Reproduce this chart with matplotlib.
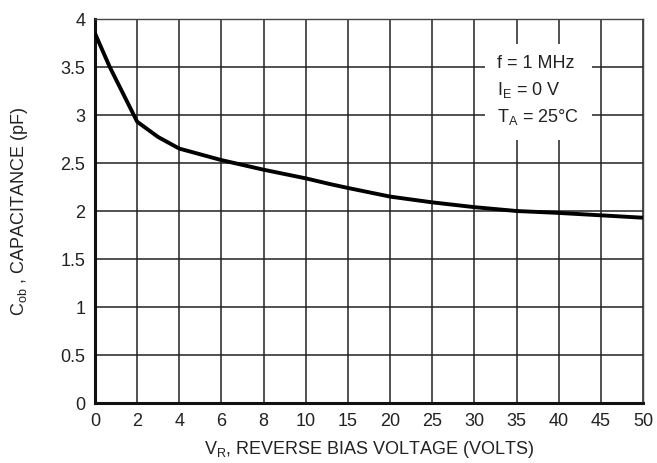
import numpy as np
import matplotlib
matplotlib.use("Agg")
import matplotlib.pyplot as plt
from matplotlib import font_manager

# --- data ---
x_ticks = [0, 2, 4, 6, 8, 10, 15, 20, 25, 30, 35, 40, 45, 50]
y_ticks = [0, 0.5, 1, 1.5, 2, 2.5, 3, 3.5, 4]
vr = [0, 0.7, 2, 3, 4, 6, 8, 10, 12.9, 15, 20, 25, 30, 35, 40, 45, 50]
cob = [3.85, 3.50, 2.93, 2.77, 2.65, 2.53, 2.43, 2.34, 2.28, 2.24, 2.15, 2.09, 2.04, 2.00, 1.98, 1.955, 1.93]
notes = ["f = 1 MHz", r"I$_\mathregular{E}$ = 0 V", r"T$_\mathregular{A}$ = 25°C"]

names = {f.name for f in font_manager.fontManager.ttflist}
fam = "Liberation Sans Narrow" if "Liberation Sans Narrow" in names else "Liberation Sans"
plt.rcParams["font.family"] = [fam, "DejaVu Sans"]
plt.rcParams["mathtext.fontset"] = "custom"
plt.rcParams["mathtext.rm"] = fam
plt.rcParams["mathtext.it"] = fam

pos = np.arange(len(x_ticks))
def fwd(v):
    return np.interp(v, x_ticks, pos)
def inv(p):
    return np.interp(p, pos, x_ticks)

fig = plt.figure(figsize=(6.57, 4.63), dpi=100)
ax = fig.add_axes([95/657, 60/463, 548/657, 384/463])
ax.set_xscale("function", functions=(fwd, inv))
ax.set_xlim(0, 50)
ax.set_ylim(0, 4)
ax.set_xticks(x_ticks)
ax.set_xticklabels([str(t) for t in x_ticks])
ax.set_yticks(y_ticks)
ax.set_yticklabels(["0", "0.5", "1", "1.5", "2", "2.5", "3", "3.5", "4"])
ax.grid(True, color="#222222", linewidth=1.1)
ax.tick_params(length=0, labelsize=13, colors="#222222", pad=7)
for s in ["top", "right"]:
    ax.spines[s].set_linewidth(1.0)
    ax.spines[s].set_color("#444444")
for s in ["left", "bottom"]:
    ax.spines[s].set_linewidth(2.2)
    ax.spines[s].set_color("#111111")

ax.plot(vr, cob, color="black", linewidth=2.8, solid_capstyle="butt", zorder=3)

txt = "\n".join(notes)
ax.text(32.7, 3.62, txt, fontsize=13, va="top", ha="left", color="#222222",
        linespacing=1.5,
        bbox=dict(facecolor="white", edgecolor="none", pad=9), zorder=4)

ax.set_xlabel(r"V$_\mathregular{R}$, REVERSE BIAS VOLTAGE (VOLTS)", fontsize=13, color="#222222", labelpad=7)
ax.set_ylabel(r"C$_\mathregular{ob}$ , CAPACITANCE (pF)", fontsize=13, color="#222222", labelpad=22)

fig.savefig("out.png", dpi=100)
